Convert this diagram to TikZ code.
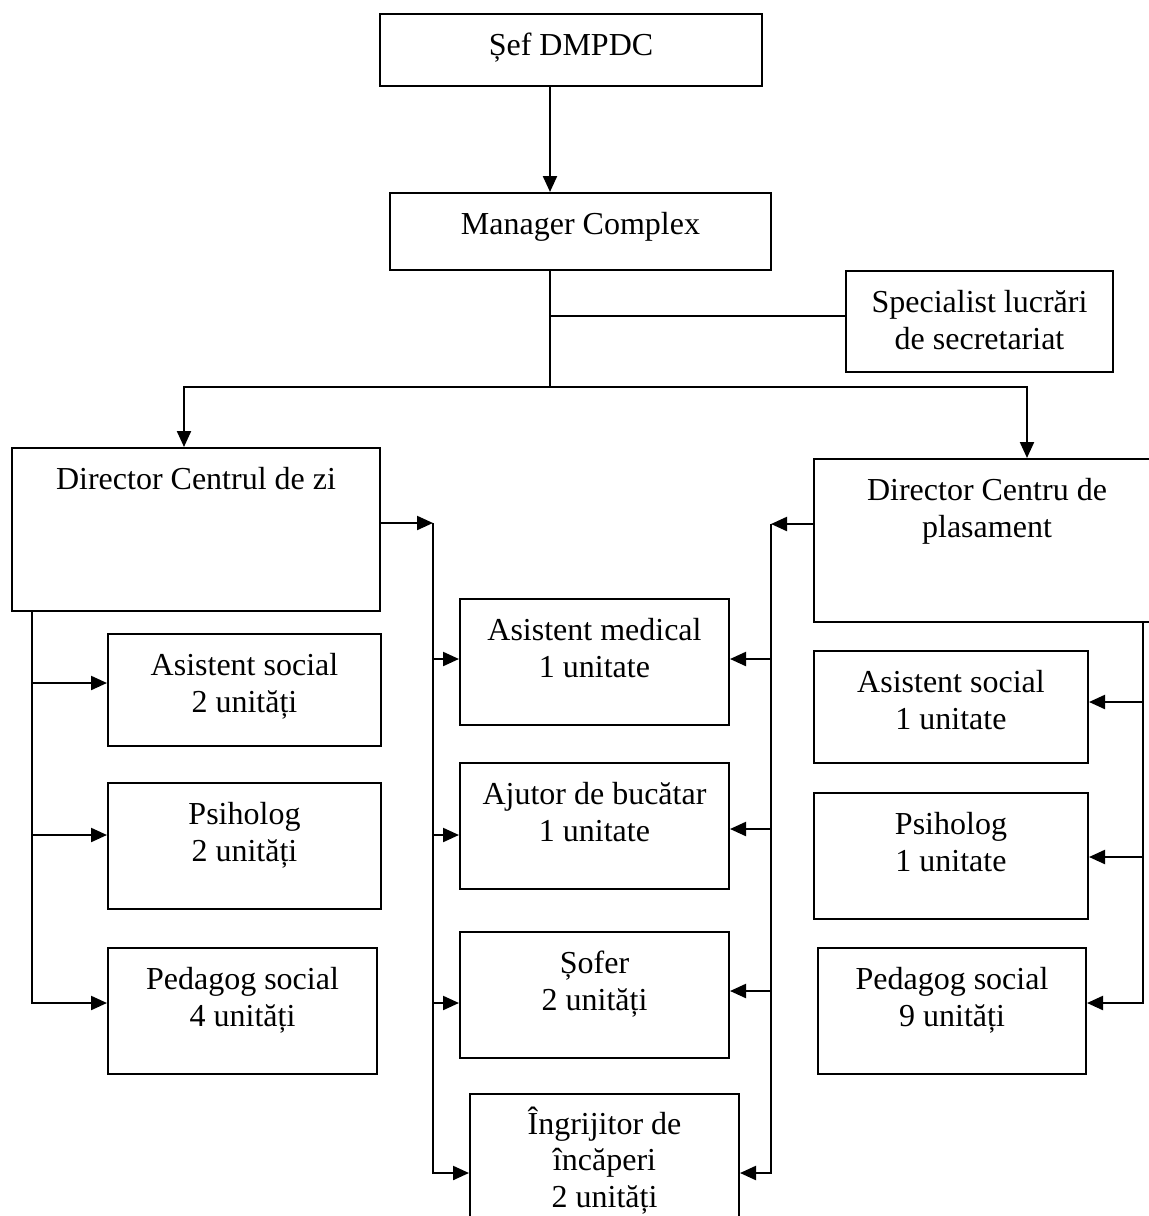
\documentclass[tikz,border=0pt]{standalone}
\usepackage{fontspec}
\setmainfont{Liberation Serif}
\usetikzlibrary{arrows.meta}
\newcommand\bxt[4][15]{\parbox[c][#3pt][t]{#2pt}{\centering\vspace*{#1pt}\rule{0pt}{26pt}#4\par}}
\begin{document}
\begin{tikzpicture}[x=1pt,y=-1pt,
  box/.style={draw,line width=2pt,inner sep=0pt,anchor=north west,font=\fontsize{32}{37.5}\selectfont},
  conn/.style={line width=2.2pt},
  arr/.style={conn,-{Triangle[length=16pt,width=14pt]}}]
\useasboundingbox (0,0) rectangle (1149,1216);
\clip (0,0) rectangle (1149,1216);

\node[box] (sef) at (379,13) {\bxt{382}{72}{Șef DMPDC}};
\node[box] (mgr) at (389,192) {\bxt{381}{77}{Manager Complex}};
\node[box] (spec) at (845,270) {\bxt{267}{101}{Specialist lucrări\\de secretariat}};
\node[box] (dzi) at (11,447) {\bxt{368}{163}{Director Centrul de zi}};
\node[box] (dpl) at (813,458) {\bxt{346}{163}{Director Centru de\\plasament}};
\node[box] (las) at (107,633) {\bxt{273}{112}{Asistent social\\2 unități}};
\node[box] (lpsi) at (107,782) {\bxt{273}{126}{Psiholog\\2 unități}};
\node[box] (lped) at (107,947) {\bxt{269}{126}{Pedagog social\\4 unități}};
\node[box] (am) at (459,598) {\bxt{269}{126}{Asistent medical\\1 unitate}};
\node[box] (aj) at (459,762) {\bxt{269}{126}{Ajutor de bucătar\\1 unitate}};
\node[box] (sof) at (459,931) {\bxt{269}{126}{Șofer\\2 unități}};
\node[box] (ing) at (469,1093) {\bxt[13]{269}{160}{Îngrijitor de\\[-1pt]încăperi\\[-1pt]2 unități}};
\node[box] (ras) at (813,650) {\bxt{274}{112}{Asistent social\\1 unitate}};
\node[box] (rpsi) at (813,792) {\bxt{274}{126}{Psiholog\\1 unitate}};
\node[box] (rped) at (817,947) {\bxt{268}{126}{Pedagog social\\9 unități}};

\coordinate (spine) at (550,387);
\coordinate (lbus) at (433,523);
\coordinate (rbus) at (771,524);
\coordinate (lcol) at (32,1003);
\coordinate (rcol) at (1143,1003);

\draw[arr] (sef.south -| spine) -- (mgr.north -| spine);
\draw[conn] (mgr.south -| spine) -- (spine);
\draw[conn] (spine |- 0,316) -- (spec.west |- 0,316);
\draw[arr] (spine) -| ([xshift=-12pt]dzi.north);
\draw[arr] (spine) -| ([xshift=40pt]dpl.north);

\draw[arr] (dzi.east |- lbus) -- (lbus);
\draw[arr] (lbus) |- (ing.west |- 0,1173);
\draw[arr] (lbus |- 0,659) -- (am.west |- 0,659);
\draw[arr] (lbus |- 0,835) -- (aj.west |- 0,835);
\draw[arr] (lbus |- 0,1003) -- (sof.west |- 0,1003);

\draw[arr] (dpl.west |- rbus) -- (rbus);
\draw[arr] (rbus) |- (ing.east |- 0,1173);
\draw[arr] (rbus |- 0,659) -- (am.east |- 0,659);
\draw[arr] (rbus |- 0,829) -- (aj.east |- 0,829);
\draw[arr] (rbus |- 0,991) -- (sof.east |- 0,991);

\draw[arr] (dzi.south -| lcol) |- (lped.west |- lcol);
\draw[arr] (lcol |- 0,683) -- (las.west |- 0,683);
\draw[arr] (lcol |- 0,835) -- (lpsi.west |- 0,835);

\draw[arr] (dpl.south -| rcol) |- (rped.east |- rcol);
\draw[arr] (rcol |- 0,702) -- (ras.east |- 0,702);
\draw[arr] (rcol |- 0,857) -- (rpsi.east |- 0,857);
\end{tikzpicture}
\end{document}
